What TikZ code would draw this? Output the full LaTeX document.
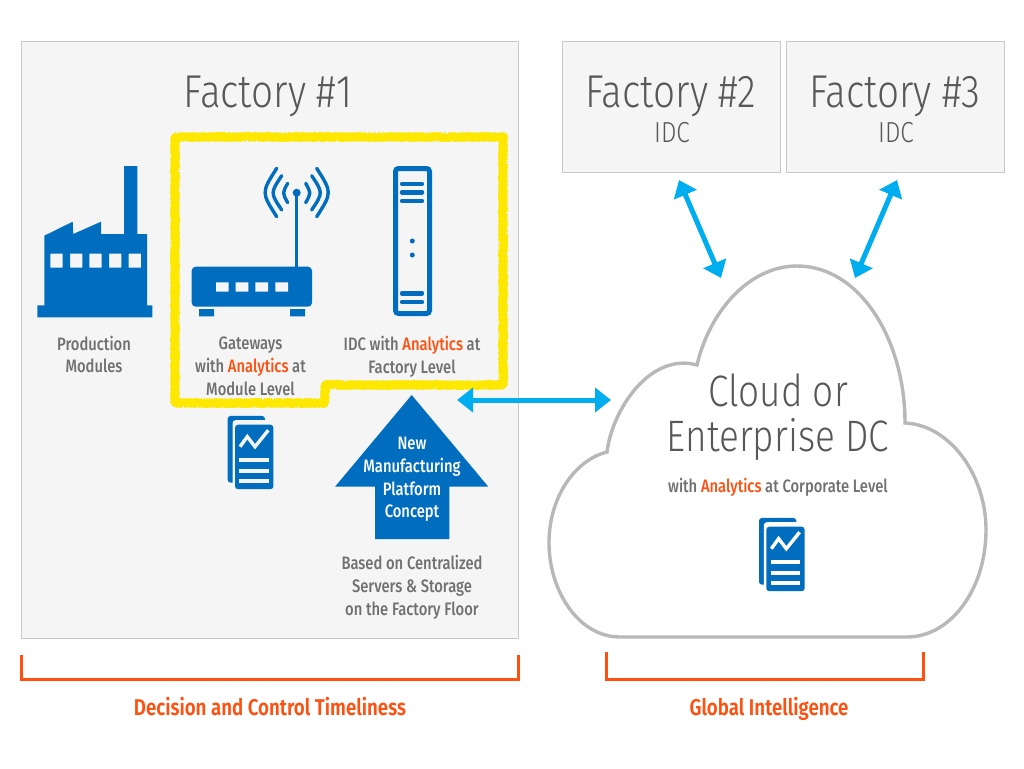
\documentclass[tikz,border=0pt]{standalone}
\usepackage{fontspec}
\setmainfont{Fira Sans Medium}[FakeStretch=0.82]
\newfontfamily\thinf{Fira Sans Light}[FakeStretch=0.84]
\newfontfamily\calloutf{Fira Sans SemiBold}[FakeStretch=0.82]
\usetikzlibrary{arrows.meta,decorations.pathmorphing}
\definecolor{iblue}{HTML}{006DBF}
\definecolor{icyan}{HTML}{00AEEF}
\definecolor{iorange}{HTML}{FF5010}
\definecolor{ipanel}{HTML}{F5F5F5}
\definecolor{iedge}{HTML}{C8C8C8}
\definecolor{icloud}{HTML}{B8B8B8}
\definecolor{itext}{HTML}{707070}
\definecolor{ibig}{HTML}{585858}
\definecolor{iyellow}{HTML}{FFE800}
\newcommand{\an}{\textcolor{iorange}{Analytics}}
\tikzset{
  panel/.style={fill=ipanel,draw=iedge,line width=1.3pt},
  bigtext/.style={text=ibig,font=\thinf\fontsize{46}{46}\selectfont,align=center,inner sep=0},
  cloudtext/.style={text=ibig,font=\thinf\fontsize{44}{45}\selectfont,align=center,inner sep=0},
  midtext/.style={text=ibig,font=\thinf\fontsize{29}{30}\selectfont,align=center,inner sep=0},
  body/.style={text=itext,font=\fontsize{18}{22.8}\selectfont,align=center,inner sep=0},
  callout/.style={text=iorange,font=\calloutf\fontsize{22.8}{24}\selectfont,inner sep=0,anchor=base},
  link/.style={draw=icyan,line width=5pt,{Triangle[width=24pt,length=16pt]}-{Triangle[width=24pt,length=16pt]}},
  bracket/.style={draw=iorange,line width=3pt},
  icon/.style={fill=iblue,draw=none},
  wave/.style={draw=iblue,line width=3.4pt,line cap=round},
  highlight/.style={draw=iyellow,line width=8pt,line join=round,decorate,decoration={random steps,segment length=1.5pt,amplitude=1.1pt}},
  fuzz/.style={draw=iyellow,line width=10.6pt,line join=round,dash pattern=on 0.8pt off 1.7pt},
  pics/docicon/.style={code={
    \fill[iblue,rounded corners=3pt] (-7.3,-8.8) rectangle (30,58);
    \fill[#1,rounded corners=3pt] (-2.5,-4.5) rectangle (40,66);
    \fill[iblue,rounded corners=3pt] (0,0) rectangle (38.4,64.5);
    \draw[#1,line width=3.4pt] (5,22) -- (12.3,12) -- (20,22) -- (33.3,5.5);
    \foreach \yy in {35.5,46,56.5} \fill[#1] (4.3,\yy-1.9) rectangle (34,\yy+1.9);
  }}
}
\begin{document}
\begin{tikzpicture}[x=1pt,y=-1pt]
\useasboundingbox (0,0) rectangle (1024,768);
\fill[white] (0,0) rectangle (1024,768);
% panels
\node[panel,minimum width=497pt,minimum height=597pt,inner sep=0,anchor=north west] (f1) at (21,41) {};
\node[panel,minimum width=218pt,minimum height=131pt,inner sep=0,anchor=north west] (f2) at (562,41) {};
\node[panel,minimum width=218pt,minimum height=131pt,inner sep=0,anchor=north west] (f3) at (786,41) {};
\node[bigtext] (t1) at (268,96) {Factory \#1};
\node[bigtext] (t2) at (671,96) {Factory \#2};
\node[midtext] (t2b) at (672,133) {IDC};
\node[bigtext] (t3) at (895,96) {Factory \#3};
\node[midtext] (t3b) at (896,133) {IDC};
% highlight
\draw[fuzz] (175,137) -- (503,137) -- (503,385) -- (325,385) -- (325,403) -- (175,403) -- cycle;
\draw[highlight] (175,137) -- (503,137) -- (503,385) -- (325,385) -- (325,403) -- (175,403) -- cycle;
% factory icon
\fill[icon,even odd rule] (37.3,305.3) -- (44.3,305.3) -- (44.3,235.7) -- (72.7,221.7) -- (73.3,234) -- (101,221.7) -- (101,234) -- (124,234) -- (124,166) -- (137.3,166) -- (137.3,234) -- (147,234) -- (147,305.3) -- (152.3,305.3) -- (152.3,317.3) -- (37.3,317.3) -- cycle
  (50.3,253.7) rectangle (62.7,267.7) (70,253.7) rectangle (82.3,267.7) (89.3,253.7) rectangle (101.7,267.7) (109,253.7) rectangle (121.3,267.7) (128.7,253.7) rectangle (141,267.7);
\node[body] (pm) at (94,354.5) {Production\\Modules};
% router icon
\draw[iblue,line width=3pt] (296.7,192.7) -- (296.7,268);
\fill[icon] (296.7,192.7) circle (4pt);
\fill[icon,rounded corners=4pt] (191.7,266.7) rectangle (312,306.7);
\fill[ipanel] (216,282.3) rectangle (228.7,291.7) (235.7,282.3) rectangle (248.3,291.7) (255.3,282.3) rectangle (268,291.7) (275.3,282.3) rectangle (288,291.7);
\fill[icon] (199,309) rectangle (214,316.3) (290,309) rectangle (305,316.3);
\draw[wave] (276.7,216.7) .. controls (261.3,192.5) .. (276.7,168.3);
\draw[wave] (281.7,210) .. controls (270.3,192.8) .. (281.7,175.7);
\draw[wave] (287.7,202.7) .. controls (282.3,193) .. (287.7,183.3);
\draw[wave] (316.7,216.7) .. controls (332.1,192.5) .. (316.7,168.3);
\draw[wave] (311.7,210) .. controls (323.1,192.8) .. (311.7,175.7);
\draw[wave] (305.7,202.7) .. controls (311.1,193) .. (305.7,183.3);
\node[body] (gw) at (250.5,366.5) {Gateways\\with \an{} at\\Module Level};
% server icon
\draw[iblue,line width=5pt,rounded corners=3pt] (395.5,168.5) rectangle (429.5,313.5);
\foreach \yy in {184,192.3,201,293.3,302} \draw[iblue,line width=4.4pt,line cap=round] (402,\yy) -- (422,\yy);
\fill[icon] (412.3,241) circle (2.5pt) (412.3,255) circle (2.5pt);
\node[body] (idc) at (412,356.5) {IDC with \an{} at\\Factory Level};
% docs
\pic at (235,424.7) {docicon=ipanel};
% up arrow
\fill[icon] (411.7,395) -- (488.3,486.7) -- (449.3,486.7) -- (449.3,539) -- (375,539) -- (375,486.7) -- (335,486.7) -- cycle;
\node[body,text=white] (nm) at (412,479.5) {New\\Manufacturing\\Platform\\Concept};
\node[body] (bs) at (412,587) {Based on Centralized\\Servers \& Storage\\on the Factory Floor};
% cloud
\draw[draw=icloud,line width=3.4pt,fill=white] (620,637) .. controls (578,637) and (549,590) .. (549,543) .. controls (549,497) and (575,460) .. (607,452) .. controls (612,410) and (650,352) .. (697,365) .. controls (710,310) and (750,266) .. (797,266) .. controls (860,266) and (905,340) .. (905,423) .. controls (950,425) and (986,475) .. (986,530) .. controls (986,590) and (950,637) .. (907,637) -- cycle;
\pic at (766.3,526.7) {docicon=white};
\node[cloudtext] (cl) at (778,417) {Cloud or\\Enterprise DC};
\node[body] (cor) at (778,487) {with \an{} at Corporate Level};
% links
\coordinate (a1) at (679,180); \coordinate (a2) at (721,278);
\coordinate (b1) at (897,180); \coordinate (b2) at (855,278);
\coordinate (c1) at (457,400); \coordinate (c2) at (611,400);
\draw[link] (a1) -- (a2);
\draw[link] (b1) -- (b2);
\draw[link] (c1) -- (c2);
% brackets
\coordinate (l1) at (21,655); \coordinate (l2) at (21,679); \coordinate (l3) at (518,679); \coordinate (l4) at (518,655);
\coordinate (r1) at (606,652); \coordinate (r2) at (606,679); \coordinate (r3) at (923,679); \coordinate (r4) at (923,652);
\draw[bracket] (l1) -- (l2) -- (l3) -- (l4);
\draw[bracket] (r1) -- (r2) -- (r3) -- (r4);
\node[callout] (dc) at (270,715) {Decision and Control Timeliness};
\node[callout] (gi) at (769,715) {Global Intelligence};
\end{tikzpicture}
\end{document}
